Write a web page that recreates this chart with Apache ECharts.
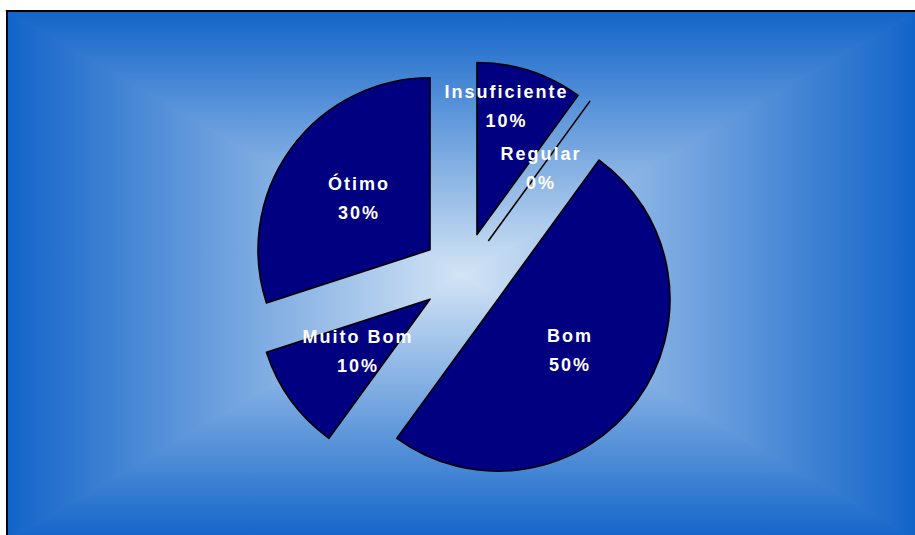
<!DOCTYPE html>
<html>
<head>
<meta charset="utf-8">
<script src="https://cdn.jsdelivr.net/npm/echarts@6/dist/echarts.min.js"></script>
<style>
  html, body { margin: 0; padding: 0; background: #ffffff; }
  #chart { width: 915px; height: 535px; letter-spacing: 2px; }
</style>
</head>
<body>
<div id="chart"></div>
<script>
// Data
const categories = ['Insuficiente', 'Regular', 'Bom', 'Muito Bom', 'Ótimo'];
const values = [10, 0, 50, 10, 30];

const chart = echarts.init(document.getElementById('chart'), null, { renderer: 'svg' });

const L = 7, T = 11, R = 917, B = 540;
const cx = 462, cy = 275;
const edge = '#1264c9';
const mid = '#d3e4f5';

function grad(x, y, x2, y2) {
  return { type: 'linear', x: x, y: y, x2: x2, y2: y2,
    colorStops: [{ offset: 0, color: edge }, { offset: 1, color: mid }] };
}
function tri(points, g) {
  return { type: 'polygon', z: -10, silent: true, shape: { points: points },
    style: { fill: g, stroke: g, lineWidth: 1.2 } };
}

const option = {
  animation: false,
  backgroundColor: '#ffffff',
  graphic: [
    tri([[L, T], [R, T], [cx, cy]], grad(0, 0, 0, 1)),
    tri([[L, B], [R, B], [cx, cy]], grad(0, 1, 0, 0)),
    tri([[L, T], [L, B], [cx, cy]], grad(0, 0, 1, 0)),
    tri([[R, T], [R, B], [cx, cy]], grad(1, 0, 0, 0)),
    { type: 'rect', z: 100, silent: true, shape: { x: L, y: T, width: R - L, height: B - T }, style: { fill: 'none', stroke: '#000', lineWidth: 2 } }
  ],
  series: [{
    type: 'pie',
    center: [464, 274.5],
    radius: 172,
    startAngle: 90,
    clockwise: true,
    selectedMode: 'multiple',
    selectedOffset: 42,
    avoidLabelOverlap: false,
    emphasis: { scale: false, disabled: true },
    itemStyle: { color: '#000080', borderColor: '#000000', borderWidth: 1.6 },
    label: {
      show: true,
      position: 'inside',
      color: '#ffffff',
      fontFamily: 'Liberation Sans, Arial, sans-serif',
      fontWeight: 'bold',
      fontSize: 18,
      lineHeight: 29,
      formatter: function (p) { return p.name + '\n' + Math.round(p.percent) + '%'; }
    },
    labelLine: { show: false },
    labelLayout: function (params) {
      if (params.dataIndex === 0) { return { dx: 2, dy: -43 }; }
      if (params.dataIndex === 2) { return { dy: -1 }; }
      if (params.dataIndex === 4) { return { dx: 1, dy: 1 }; }
      return {};
    },
    data: categories.map(function (c, i) { return { name: c, value: values[i], selected: true }; })
  }]
};

chart.setOption(option);
</script>
</body>
</html>
